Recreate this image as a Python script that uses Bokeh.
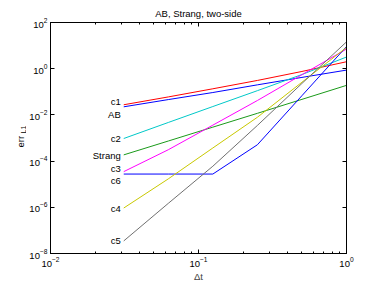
import numpy as np
from bokeh.plotting import figure
from bokeh.layouts import row
from bokeh.models import LogAxis, FixedTicker, Range1d
from bokeh.core.properties import value
from bokeh.embed import file_html
from bokeh.resources import INLINE

# ---- data ----
dt = [1/32, 1/16, 1/8, 1/4, 1/2, 1.0]
names = ["c1", "AB", "c2", "Strang", "c3", "c6", "c4", "c5"]
err_c1 = [2.75e-2, 6.0e-2, 1.35e-1, 3.1e-1, 7.6e-1, 2.0]
err_AB = [2.24e-2, 4.6e-2, 9.3e-2, 2.0e-1, 4.2e-1, 8.7e-1]
err_c2 = [9.5e-4, 4.7e-3, 2.3e-2, 1.12e-1, 5.6e-1, 3.2]
err_Strang = [1.86e-4, 7.4e-4, 2.95e-3, 1.17e-2, 4.7e-2, 1.9e-1]
err_c3 = [3.5e-5, 3.1e-4, 3.6e-3, 4.2e-2, 5.5e-1, 7.1]
err_c6 = [2.75e-5, 2.75e-5, 2.75e-5, 5.1e-4, 6.8e-2, 9.1]
err_c4 = [9.3e-7, 1.7e-5, 3.7e-4, 7.9e-3, 2.6e-1, 8.3]
err_c5 = [3.5e-8, 1.48e-6, 6.0e-5, 3.5e-3, 2.3e-1, 14.5]
x_range = (1e-2, 1e0)
y_range = (1e-8, 1e2)
x_ticks = [1e-2, 1e-1, 1e0]
y_ticks = [1e-8, 1e-6, 1e-4, 1e-2, 1e0, 1e2]
title_text = "AB, Strang, two-side"
x_label = "\u0394t"
y_label = "err"
y_label_sub = "L1"

series = [err_c1, err_AB, err_c2, err_Strang, err_c3, err_c6, err_c4, err_c5]
x_minor = [m * d for d in (1e-2, 1e-1) for m in range(2, 10)]

# ---- styles ----
colors = ["#ff0000", "#0000ff", "#00c8c8", "#1a9a1a", "#ff00ff", "#0000ff", "#c8c800", "#707070"]
label_dy = [3, -8, 0, -1, 3, -6, 0, 0]   # pixel offsets (up positive) of the name labels
FONT = "Liberation Sans"

W, H = 382, 287
LW = 26   # width of the strip that carries the rotated y label

p = figure(width=W - LW, height=H, x_axis_type="log", y_axis_type="log",
           x_range=x_range, y_range=y_range, output_backend="svg",
           toolbar_location=None)
p.min_border_left = 50 - LW
p.min_border_right = 36
p.min_border_top = 22
p.min_border_bottom = 34
p.background_fill_color = "white"
p.border_fill_color = "white"
p.outline_line_color = "black"
p.outline_line_width = 1
p.grid.visible = False

p.title.text = title_text
p.title.align = "center"
p.title.text_font = FONT
p.title.text_font_size = "9.5px"
p.title.text_font_style = "normal"
p.title.text_color = "black"
p.title.standoff = 7

def style_axis(ax, labels=True):
    ax.axis_line_color = "black"
    ax.major_tick_in = 4
    ax.major_tick_out = 0
    ax.minor_tick_in = 2
    ax.minor_tick_out = 0
    ax.major_tick_line_color = "black"
    ax.minor_tick_line_color = "black"
    ax.major_label_text_font = FONT
    ax.major_label_text_color = "black"
    if labels:
        ax.major_label_text_font_size = "9.5px"
        ax.major_label_standoff = 3
    else:
        ax.major_label_text_font_size = "1px"
        ax.major_label_text_alpha = 0
        ax.major_label_standoff = 0

xb = p.xaxis[0]
xb.ticker = FixedTicker(ticks=x_ticks, minor_ticks=x_minor)
style_axis(xb)
xb.axis_label = x_label
xb.axis_label_text_font = FONT
xb.axis_label_text_font_size = "9.5px"
xb.axis_label_text_font_style = "normal"
xb.axis_label_standoff = 1

yl = p.yaxis[0]
yl.ticker = FixedTicker(ticks=y_ticks, minor_ticks=[])
style_axis(yl)

xt = LogAxis(ticker=FixedTicker(ticks=x_ticks, minor_ticks=x_minor))
style_axis(xt, labels=False)
p.add_layout(xt, "above")
yr = LogAxis(ticker=FixedTicker(ticks=y_ticks, minor_ticks=[]))
style_axis(yr, labels=False)
p.add_layout(yr, "right")

for name, ys, c, dy in zip(names, series, colors, label_dy):
    p.line(dt, ys, line_color=c, line_width=1)
    p.text(x=[dt[0]], y=[ys[0]], text=[name], text_font=value(FONT),
           text_font_size="9.5px", text_align="right", text_baseline="middle",
           x_offset=-3, y_offset=-dy, text_color="black")

# strip with the rotated y label err_{L1} (pixel coordinates, y measured upward)
s = figure(width=LW, height=H, x_range=Range1d(0, LW), y_range=Range1d(0, H),
           output_backend="svg", toolbar_location=None,
           x_axis_location=None, y_axis_location=None,
           min_border_left=0, min_border_right=0, min_border_top=0, min_border_bottom=0)
s.outline_line_color = None
s.grid.visible = False
s.background_fill_color = "white"
s.border_fill_color = "white"
s.text(x=[20], y=[H - 148], text=[y_label], angle=np.pi / 2, text_font=value(FONT),
       text_font_size="9.5px", text_align="center", text_baseline="middle",
       text_color="black")
s.text(x=[22.5], y=[H - 133], text=[y_label_sub], angle=np.pi / 2, text_font=value(FONT),
       text_font_size="7px", text_align="center", text_baseline="middle",
       text_color="black")

layout = row(s, p)
open("out.html", "w").write(file_html(layout, INLINE))
